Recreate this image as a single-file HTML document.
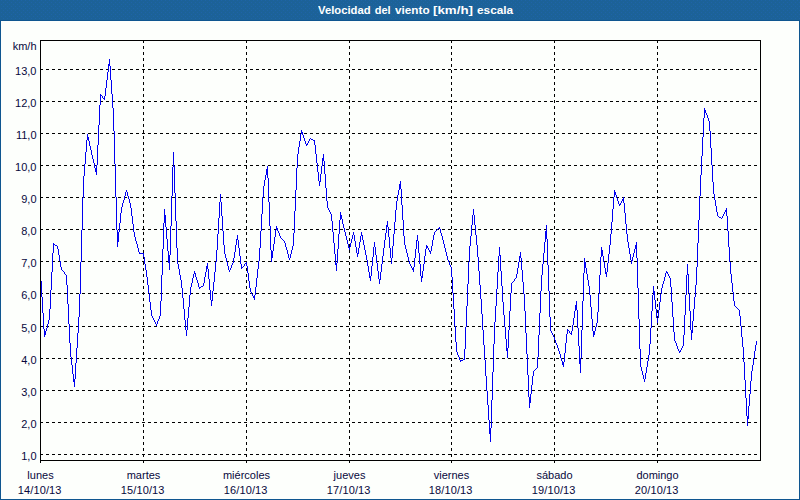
<!DOCTYPE html>
<html><head><meta charset="utf-8"><title>Velocidad del viento</title>
<style>
html,body{margin:0;padding:0;}
body{width:800px;height:500px;overflow:hidden;background:#fdfffc;font-family:"Liberation Sans",sans-serif;}
#wrap{position:relative;width:800px;height:500px;box-sizing:border-box;background:#fdfffc;overflow:hidden;}
#hdr{position:absolute;left:0;top:0;width:800px;height:20px;background:#1c6298;}
#bt{position:absolute;left:0;top:20px;width:800px;height:1px;background:#0f5690;}
#bl,#br,#bb{position:absolute;background:#0f5690;}
#bl{left:0;top:20px;width:1px;height:480px;}
#br{left:799px;top:20px;width:1px;height:480px;}
#bb{left:0;top:499px;width:800px;height:1px;}
#title{position:absolute;left:0;top:0;width:800px;height:21px;color:#fff;font-weight:bold;font-size:11px;}
#title span{position:absolute;top:0;line-height:20px;white-space:nowrap;transform-origin:0 50%;}
.yl{position:absolute;left:0;width:36.5px;text-align:right;font-size:11px;line-height:13px;height:13px;color:#08083c;white-space:nowrap;}
.dt{letter-spacing:0.12px;margin-left:-0.8px;}
.xl{position:absolute;width:101px;text-align:center;font-size:11px;line-height:13px;height:13px;color:#08083c;white-space:nowrap;}
</style></head><body>
<div id="wrap">
<div id="hdr"><svg width="800" height="20" style="display:block"><defs><pattern id="dz" width="8" height="4" patternUnits="userSpaceOnUse"><rect x="1" y="0" width="1" height="1" fill="#1e64a8"/><rect x="5" y="0" width="1" height="1" fill="#1e64a8"/><rect x="3" y="2" width="1" height="1" fill="#1e64a8"/><rect x="7" y="2" width="1" height="1" fill="#1e64a8"/></pattern></defs><rect width="800" height="20" fill="url(#dz)" shape-rendering="crispEdges"/></svg></div><div id="bt"></div>
<div id="title"><span style="left:318.25px;transform:scaleX(1.025)">Velocidad</span><span style="left:374.75px">del</span><span style="left:395.25px;transform:scaleX(1.068)">viento</span><span style="left:433.29px;transform:scaleX(1.211)">[km/h]</span><span style="left:477.42px;transform:scaleX(1.076)">escala</span></div>
<svg width="800" height="500" viewBox="0 0 800 500" style="position:absolute;left:0;top:0"><path d="M40 69.5H761M40 101.5H761M40 133.5H761M40 165.5H761M40 197.5H761M40 229.5H761M40 261.5H761M40 293.5H761M40 326.5H761M40 358.5H761M40 390.5H761M40 422.5H761M40 454.5H761" stroke="#000" stroke-width="1" stroke-dasharray="3 3" fill="none" shape-rendering="crispEdges"/><path d="M143.5 40V463M246.5 40V463M349.5 40V463M451.5 40V463M554.5 40V463M657.5 40V463" stroke="#000" stroke-width="1" stroke-dasharray="3 3" fill="none" shape-rendering="crispEdges"/><path d="M41 281h1v16h-1zM42 297h1v16h-1zM43 313h1v16h-1zM44 329h1v8h-1zM45 331h1v4h-1zM46 328h1v3h-1zM47 324h1v4h-1zM48 320h1v4h-1zM49 309h1v11h-1zM50 290h1v19h-1zM51 272h1v18h-1zM52 253h1v19h-1zM53 243h1v10h-1zM54 244h1v1h-1zM55 245h1v1h-1zM56 245h1v1h-1zM57 246h1v3h-1zM58 249h1v6h-1zM59 255h1v6h-1zM60 261h1v6h-1zM61 267h1v3h-1zM62 270h1v1h-1zM63 271h1v1h-1zM64 272h1v2h-1zM65 274h1v1h-1zM66 275h1v10h-1zM67 285h1v19h-1zM68 304h1v20h-1zM69 324h1v19h-1zM70 343h1v14h-1zM71 357h1v8h-1zM72 365h1v9h-1zM73 374h1v8h-1zM74 379h1v8h-1zM75 363h1v16h-1zM76 348h1v15h-1zM77 333h1v15h-1zM78 317h1v16h-1zM79 294h1v23h-1zM80 262h1v32h-1zM81 230h1v32h-1zM82 198h1v32h-1zM83 176h1v22h-1zM84 164h1v12h-1zM85 152h1v12h-1zM86 140h1v12h-1zM87 134h1v6h-1zM88 137h1v4h-1zM89 141h1v5h-1zM90 146h1v4h-1zM91 150h1v5h-1zM92 155h1v4h-1zM93 159h1v4h-1zM94 163h1v5h-1zM95 168h1v4h-1zM96 165h1v10h-1zM97 145h1v20h-1zM98 125h1v20h-1zM99 105h1v20h-1zM100 94h1v11h-1zM101 95h1v1h-1zM102 96h1v2h-1zM103 98h1v1h-1zM104 96h1v4h-1zM105 88h1v8h-1zM106 80h1v8h-1zM107 72h1v8h-1zM108 64h1v8h-1zM109 59h1v7h-1zM110 66h1v14h-1zM111 80h1v14h-1zM112 94h1v14h-1zM113 108h1v23h-1zM114 131h1v33h-1zM115 164h1v33h-1zM116 197h1v33h-1zM117 230h1v17h-1zM118 232h1v10h-1zM119 223h1v9h-1zM120 213h1v10h-1zM121 207h1v6h-1zM122 203h1v4h-1zM123 200h1v3h-1zM124 196h1v4h-1zM125 192h1v4h-1zM126 190h1v2h-1zM127 192h1v4h-1zM128 196h1v3h-1zM129 199h1v4h-1zM130 203h1v5h-1zM131 208h1v8h-1zM132 216h1v8h-1zM133 224h1v8h-1zM134 232h1v5h-1zM135 237h1v4h-1zM136 241h1v3h-1zM137 244h1v4h-1zM138 248h1v4h-1zM139 252h1v2h-1zM140 253h1v1h-1zM141 253h1v1h-1zM142 253h1v1h-1zM143 253h1v4h-1zM144 257h1v7h-1zM145 264h1v6h-1zM146 270h1v7h-1zM147 277h1v8h-1zM148 285h1v8h-1zM149 293h1v9h-1zM150 302h1v8h-1zM151 310h1v6h-1zM152 316h1v2h-1zM153 318h1v2h-1zM154 320h1v2h-1zM155 322h1v2h-1zM156 324h1v2h-1zM157 321h1v3h-1zM158 319h1v2h-1zM159 316h1v3h-1zM160 301h1v15h-1zM161 275h1v26h-1zM162 249h1v26h-1zM163 223h1v26h-1zM164 209h1v14h-1zM165 215h1v12h-1zM166 227h1v12h-1zM167 239h1v12h-1zM168 251h1v12h-1zM169 255h1v15h-1zM170 226h1v29h-1zM171 196h1v30h-1zM172 167h1v29h-1zM173 152h1v15h-1zM174 166h1v27h-1zM175 193h1v28h-1zM176 221h1v27h-1zM177 248h1v16h-1zM178 264h1v5h-1zM179 269h1v6h-1zM180 275h1v5h-1zM181 280h1v8h-1zM182 288h1v10h-1zM183 298h1v11h-1zM184 309h1v11h-1zM185 320h1v10h-1zM186 330h1v6h-1zM187 318h1v12h-1zM188 307h1v11h-1zM189 295h1v12h-1zM190 287h1v8h-1zM191 283h1v4h-1zM192 278h1v5h-1zM193 274h1v4h-1zM194 271h1v3h-1zM195 273h1v4h-1zM196 277h1v3h-1zM197 280h1v3h-1zM198 283h1v4h-1zM199 287h1v2h-1zM200 287h1v1h-1zM201 286h1v1h-1zM202 286h1v1h-1zM203 283h1v3h-1zM204 277h1v6h-1zM205 272h1v5h-1zM206 266h1v6h-1zM207 263h1v6h-1zM208 269h1v10h-1zM209 279h1v11h-1zM210 290h1v10h-1zM211 300h1v6h-1zM212 291h1v10h-1zM213 282h1v9h-1zM214 272h1v10h-1zM215 262h1v10h-1zM216 250h1v12h-1zM217 234h1v16h-1zM218 218h1v16h-1zM219 202h1v16h-1zM220 194h1v8h-1zM221 202h1v14h-1zM222 216h1v15h-1zM223 231h1v14h-1zM224 245h1v9h-1zM225 254h1v4h-1zM226 258h1v4h-1zM227 262h1v4h-1zM228 266h1v4h-1zM229 270h1v2h-1zM230 268h1v2h-1zM231 265h1v3h-1zM232 263h1v2h-1zM233 258h1v5h-1zM234 252h1v6h-1zM235 245h1v7h-1zM236 239h1v6h-1zM237 235h1v5h-1zM238 240h1v8h-1zM239 248h1v8h-1zM240 256h1v8h-1zM241 264h1v5h-1zM242 267h1v1h-1zM243 266h1v1h-1zM244 264h1v2h-1zM245 263h1v1h-1zM246 262h1v4h-1zM247 266h1v7h-1zM248 273h1v8h-1zM249 281h1v7h-1zM250 288h1v4h-1zM251 292h1v2h-1zM252 294h1v2h-1zM253 296h1v2h-1zM254 295h1v5h-1zM255 287h1v8h-1zM256 278h1v9h-1zM257 269h1v9h-1zM258 261h1v8h-1zM259 248h1v13h-1zM260 231h1v17h-1zM261 214h1v17h-1zM262 197h1v17h-1zM263 186h1v11h-1zM264 180h1v6h-1zM265 175h1v5h-1zM266 169h1v6h-1zM267 166h1v12h-1zM268 178h1v24h-1zM269 202h1v24h-1zM270 226h1v24h-1zM271 250h1v12h-1zM272 251h1v7h-1zM273 244h1v7h-1zM274 237h1v7h-1zM275 230h1v7h-1zM276 226h1v4h-1zM277 228h1v3h-1zM278 231h1v2h-1zM279 233h1v3h-1zM280 236h1v2h-1zM281 238h1v1h-1zM282 239h1v1h-1zM283 240h1v1h-1zM284 241h1v2h-1zM285 243h1v4h-1zM286 247h1v3h-1zM287 250h1v4h-1zM288 254h1v4h-1zM289 258h1v2h-1zM290 254h1v4h-1zM291 250h1v4h-1zM292 246h1v4h-1zM293 233h1v13h-1zM294 211h1v22h-1zM295 190h1v21h-1zM296 168h1v22h-1zM297 154h1v14h-1zM298 147h1v7h-1zM299 141h1v6h-1zM300 134h1v7h-1zM301 130h1v4h-1zM302 132h1v3h-1zM303 135h1v3h-1zM304 138h1v3h-1zM305 141h1v3h-1zM306 144h1v2h-1zM307 143h1v2h-1zM308 141h1v2h-1zM309 139h1v2h-1zM310 138h1v1h-1zM311 139h1v1h-1zM312 139h1v1h-1zM313 140h1v1h-1zM314 140h1v5h-1zM315 145h1v9h-1zM316 154h1v9h-1zM317 163h1v9h-1zM318 172h1v9h-1zM319 181h1v5h-1zM320 174h1v8h-1zM321 166h1v8h-1zM322 158h1v8h-1zM323 154h1v7h-1zM324 161h1v13h-1zM325 174h1v14h-1zM326 188h1v13h-1zM327 201h1v7h-1zM328 208h1v2h-1zM329 210h1v2h-1zM330 212h1v2h-1zM331 214h1v7h-1zM332 221h1v11h-1zM333 232h1v11h-1zM334 243h1v11h-1zM335 254h1v11h-1zM336 263h1v8h-1zM337 249h1v14h-1zM338 234h1v15h-1zM339 220h1v14h-1zM340 212h1v8h-1zM341 215h1v4h-1zM342 219h1v5h-1zM343 224h1v4h-1zM344 228h1v4h-1zM345 232h1v4h-1zM346 236h1v4h-1zM347 240h1v4h-1zM348 244h1v4h-1zM349 247h1v3h-1zM350 243h1v4h-1zM351 239h1v4h-1zM352 235h1v4h-1zM353 232h1v3h-1zM354 235h1v6h-1zM355 241h1v6h-1zM356 247h1v6h-1zM357 253h1v4h-1zM358 248h1v6h-1zM359 242h1v6h-1zM360 236h1v6h-1zM361 232h1v4h-1zM362 235h1v5h-1zM363 240h1v5h-1zM364 245h1v5h-1zM365 250h1v5h-1zM366 255h1v5h-1zM367 260h1v6h-1zM368 266h1v6h-1zM369 272h1v6h-1zM370 276h1v5h-1zM371 266h1v10h-1zM372 257h1v9h-1zM373 247h1v10h-1zM374 242h1v5h-1zM375 247h1v8h-1zM376 255h1v8h-1zM377 263h1v8h-1zM378 271h1v8h-1zM379 279h1v5h-1zM380 272h1v8h-1zM381 264h1v8h-1zM382 256h1v8h-1zM383 248h1v8h-1zM384 240h1v8h-1zM385 233h1v7h-1zM386 225h1v8h-1zM387 221h1v6h-1zM388 227h1v10h-1zM389 237h1v11h-1zM390 248h1v10h-1zM391 258h1v6h-1zM392 246h1v12h-1zM393 234h1v12h-1zM394 222h1v12h-1zM395 210h1v12h-1zM396 201h1v9h-1zM397 195h1v6h-1zM398 190h1v5h-1zM399 184h1v6h-1zM400 181h1v8h-1zM401 189h1v16h-1zM402 205h1v15h-1zM403 220h1v16h-1zM404 236h1v9h-1zM405 245h1v4h-1zM406 249h1v4h-1zM407 253h1v4h-1zM408 257h1v4h-1zM409 261h1v3h-1zM410 264h1v2h-1zM411 266h1v2h-1zM412 268h1v2h-1zM413 267h1v5h-1zM414 258h1v9h-1zM415 249h1v9h-1zM416 240h1v9h-1zM417 235h1v6h-1zM418 241h1v12h-1zM419 253h1v11h-1zM420 264h1v12h-1zM421 276h1v6h-1zM422 271h1v7h-1zM423 264h1v7h-1zM424 256h1v8h-1zM425 249h1v7h-1zM426 245h1v4h-1zM427 246h1v2h-1zM428 248h1v2h-1zM429 250h1v2h-1zM430 251h1v3h-1zM431 246h1v5h-1zM432 240h1v6h-1zM433 235h1v5h-1zM434 232h1v3h-1zM435 231h1v1h-1zM436 230h1v1h-1zM437 229h1v1h-1zM438 228h1v1h-1zM439 227h1v2h-1zM440 229h1v4h-1zM441 233h1v3h-1zM442 236h1v4h-1zM443 240h1v4h-1zM444 244h1v4h-1zM445 248h1v4h-1zM446 252h1v4h-1zM447 256h1v4h-1zM448 260h1v2h-1zM449 262h1v3h-1zM450 265h1v2h-1zM451 267h1v10h-1zM452 277h1v16h-1zM453 293h1v16h-1zM454 309h1v17h-1zM455 326h1v16h-1zM456 342h1v10h-1zM457 352h1v3h-1zM458 355h1v2h-1zM459 357h1v3h-1zM460 360h1v2h-1zM461 360h1v1h-1zM462 360h1v1h-1zM463 359h1v1h-1zM464 349h1v11h-1zM465 327h1v22h-1zM466 306h1v21h-1zM467 284h1v22h-1zM468 262h1v22h-1zM469 246h1v16h-1zM470 236h1v10h-1zM471 225h1v11h-1zM472 215h1v10h-1zM473 209h1v6h-1zM474 215h1v10h-1zM475 225h1v10h-1zM476 235h1v10h-1zM477 245h1v12h-1zM478 257h1v14h-1zM479 271h1v14h-1zM480 285h1v14h-1zM481 299h1v15h-1zM482 314h1v16h-1zM483 330h1v15h-1zM484 345h1v15h-1zM485 360h1v16h-1zM486 376h1v15h-1zM487 391h1v14h-1zM488 405h1v15h-1zM489 420h1v14h-1zM490 428h1v14h-1zM491 400h1v28h-1zM492 372h1v28h-1zM493 344h1v28h-1zM494 322h1v22h-1zM495 306h1v16h-1zM496 289h1v17h-1zM497 272h1v17h-1zM498 256h1v16h-1zM499 247h1v9h-1zM500 255h1v16h-1zM501 271h1v15h-1zM502 286h1v16h-1zM503 302h1v13h-1zM504 315h1v12h-1zM505 327h1v12h-1zM506 339h1v12h-1zM507 348h1v10h-1zM508 330h1v18h-1zM509 311h1v19h-1zM510 293h1v18h-1zM511 283h1v10h-1zM512 282h1v1h-1zM513 281h1v1h-1zM514 279h1v2h-1zM515 278h1v1h-1zM516 274h1v4h-1zM517 268h1v6h-1zM518 262h1v6h-1zM519 256h1v6h-1zM520 252h1v6h-1zM521 258h1v12h-1zM522 270h1v12h-1zM523 282h1v12h-1zM524 294h1v17h-1zM525 311h1v22h-1zM526 333h1v21h-1zM527 354h1v21h-1zM528 375h1v22h-1zM529 397h1v11h-1zM530 394h1v9h-1zM531 385h1v9h-1zM532 376h1v9h-1zM533 371h1v5h-1zM534 370h1v1h-1zM535 369h1v1h-1zM536 368h1v1h-1zM537 357h1v11h-1zM538 335h1v22h-1zM539 313h1v22h-1zM540 291h1v22h-1zM541 275h1v16h-1zM542 264h1v11h-1zM543 253h1v11h-1zM544 242h1v11h-1zM545 231h1v11h-1zM546 225h1v14h-1zM547 239h1v26h-1zM548 265h1v26h-1zM549 291h1v26h-1zM550 317h1v14h-1zM551 331h1v2h-1zM552 333h1v2h-1zM553 335h1v2h-1zM554 337h1v3h-1zM555 340h1v3h-1zM556 343h1v2h-1zM557 345h1v3h-1zM558 348h1v3h-1zM559 351h1v3h-1zM560 354h1v4h-1zM561 358h1v3h-1zM562 361h1v4h-1zM563 362h1v5h-1zM564 353h1v9h-1zM565 343h1v10h-1zM566 334h1v9h-1zM567 329h1v5h-1zM568 330h1v1h-1zM569 331h1v2h-1zM570 333h1v1h-1zM571 331h1v4h-1zM572 325h1v6h-1zM573 318h1v7h-1zM574 311h1v7h-1zM575 305h1v6h-1zM576 301h1v9h-1zM577 310h1v18h-1zM578 328h1v18h-1zM579 346h1v18h-1zM580 358h1v15h-1zM581 330h1v28h-1zM582 301h1v29h-1zM583 273h1v28h-1zM584 258h1v15h-1zM585 262h1v6h-1zM586 268h1v6h-1zM587 274h1v6h-1zM588 280h1v6h-1zM589 286h1v9h-1zM590 295h1v12h-1zM591 307h1v12h-1zM592 319h1v12h-1zM593 331h1v6h-1zM594 331h1v4h-1zM595 327h1v4h-1zM596 323h1v4h-1zM597 312h1v11h-1zM598 294h1v18h-1zM599 275h1v19h-1zM600 257h1v18h-1zM601 247h1v10h-1zM602 250h1v6h-1zM603 256h1v6h-1zM604 262h1v6h-1zM605 268h1v6h-1zM606 272h1v5h-1zM607 263h1v9h-1zM608 254h1v9h-1zM609 245h1v9h-1zM610 234h1v11h-1zM611 222h1v12h-1zM612 209h1v13h-1zM613 197h1v12h-1zM614 190h1v7h-1zM615 192h1v3h-1zM616 195h1v3h-1zM617 198h1v3h-1zM618 201h1v3h-1zM619 204h1v2h-1zM620 203h1v2h-1zM621 201h1v2h-1zM622 199h1v2h-1zM623 197h1v6h-1zM624 203h1v10h-1zM625 213h1v11h-1zM626 224h1v10h-1zM627 234h1v8h-1zM628 242h1v6h-1zM629 248h1v6h-1zM630 254h1v6h-1zM631 260h1v4h-1zM632 257h1v4h-1zM633 253h1v4h-1zM634 249h1v4h-1zM635 245h1v4h-1zM636 242h1v16h-1zM637 258h1v30h-1zM638 288h1v31h-1zM639 319h1v30h-1zM640 349h1v18h-1zM641 367h1v4h-1zM642 371h1v4h-1zM643 375h1v4h-1zM644 379h1v3h-1zM645 373h1v6h-1zM646 367h1v6h-1zM647 361h1v6h-1zM648 355h1v6h-1zM649 344h1v11h-1zM650 328h1v16h-1zM651 311h1v17h-1zM652 295h1v16h-1zM653 286h1v9h-1zM654 291h1v9h-1zM655 300h1v9h-1zM656 309h1v9h-1zM657 318h1v5h-1zM658 310h1v8h-1zM659 302h1v8h-1zM660 294h1v8h-1zM661 288h1v6h-1zM662 284h1v4h-1zM663 281h1v3h-1zM664 277h1v4h-1zM665 273h1v4h-1zM666 271h1v2h-1zM667 272h1v2h-1zM668 274h1v2h-1zM669 276h1v2h-1zM670 278h1v9h-1zM671 287h1v15h-1zM672 302h1v15h-1zM673 317h1v15h-1zM674 332h1v9h-1zM675 341h1v2h-1zM676 343h1v3h-1zM677 346h1v3h-1zM678 349h1v2h-1zM679 351h1v2h-1zM680 350h1v2h-1zM681 348h1v2h-1zM682 346h1v2h-1zM683 335h1v11h-1zM684 315h1v20h-1zM685 295h1v20h-1zM686 275h1v20h-1zM687 264h1v11h-1zM688 274h1v19h-1zM689 293h1v18h-1zM690 311h1v19h-1zM691 330h1v10h-1zM692 321h1v12h-1zM693 309h1v12h-1zM694 297h1v12h-1zM695 285h1v12h-1zM696 267h1v18h-1zM697 243h1v24h-1zM698 220h1v23h-1zM699 196h1v24h-1zM700 175h1v21h-1zM701 156h1v19h-1zM702 137h1v19h-1zM703 118h1v19h-1zM704 108h1v10h-1zM705 110h1v3h-1zM706 113h1v2h-1zM707 115h1v3h-1zM708 118h1v3h-1zM709 121h1v10h-1zM710 131h1v17h-1zM711 148h1v17h-1zM712 165h1v17h-1zM713 182h1v12h-1zM714 194h1v6h-1zM715 200h1v6h-1zM716 206h1v6h-1zM717 212h1v4h-1zM718 216h1v1h-1zM719 217h1v1h-1zM720 217h1v1h-1zM721 218h1v1h-1zM722 216h1v2h-1zM723 214h1v2h-1zM724 212h1v2h-1zM725 210h1v2h-1zM726 208h1v8h-1zM727 216h1v15h-1zM728 231h1v16h-1zM729 247h1v15h-1zM730 262h1v12h-1zM731 274h1v9h-1zM732 283h1v9h-1zM733 292h1v9h-1zM734 301h1v5h-1zM735 306h1v1h-1zM736 307h1v1h-1zM737 308h1v1h-1zM738 309h1v1h-1zM739 310h1v6h-1zM740 316h1v10h-1zM741 326h1v11h-1zM742 337h1v10h-1zM743 347h1v15h-1zM744 362h1v18h-1zM745 380h1v18h-1zM746 398h1v18h-1zM747 416h1v10h-1zM748 406h1v13h-1zM749 394h1v12h-1zM750 381h1v13h-1zM751 371h1v10h-1zM752 365h1v6h-1zM753 358h1v7h-1zM754 351h1v7h-1zM755 345h1v6h-1zM756 341h1v4h-1z" fill="#0000f0" stroke="none" shape-rendering="crispEdges"/><rect x="40.5" y="40.5" width="720" height="420" fill="none" stroke="#000" stroke-width="1" shape-rendering="crispEdges"/><path d="M40.5 460V463" stroke="#000" stroke-width="1" shape-rendering="crispEdges"/></svg>
<div class="yl" style="top:40px">km/h</div><div class="yl" style="top:65px">13,0</div><div class="yl" style="top:97px">12,0</div><div class="yl" style="top:129px">11,0</div><div class="yl" style="top:161px">10,0</div><div class="yl" style="top:193px">9,0</div><div class="yl" style="top:225px">8,0</div><div class="yl" style="top:257px">7,0</div><div class="yl" style="top:289px">6,0</div><div class="yl" style="top:322px">5,0</div><div class="yl" style="top:354px">4,0</div><div class="yl" style="top:386px">3,0</div><div class="yl" style="top:418px">2,0</div><div class="yl" style="top:450px">1,0</div><div class="xl" style="left:-10px;top:469px">lunes</div><div class="xl dt" style="left:-10px;top:484px">14/10/13</div><div class="xl" style="left:93px;top:469px">martes</div><div class="xl dt" style="left:93px;top:484px">15/10/13</div><div class="xl" style="left:196px;top:469px">miércoles</div><div class="xl dt" style="left:196px;top:484px">16/10/13</div><div class="xl" style="left:299px;top:469px">jueves</div><div class="xl dt" style="left:299px;top:484px">17/10/13</div><div class="xl" style="left:401px;top:469px">viernes</div><div class="xl dt" style="left:401px;top:484px">18/10/13</div><div class="xl" style="left:504px;top:469px">sábado</div><div class="xl dt" style="left:504px;top:484px">19/10/13</div><div class="xl" style="left:607px;top:469px">domingo</div><div class="xl dt" style="left:607px;top:484px">20/10/13</div>
<div id="bl"></div><div id="br"></div><div id="bb"></div>
</div>
</body></html>
